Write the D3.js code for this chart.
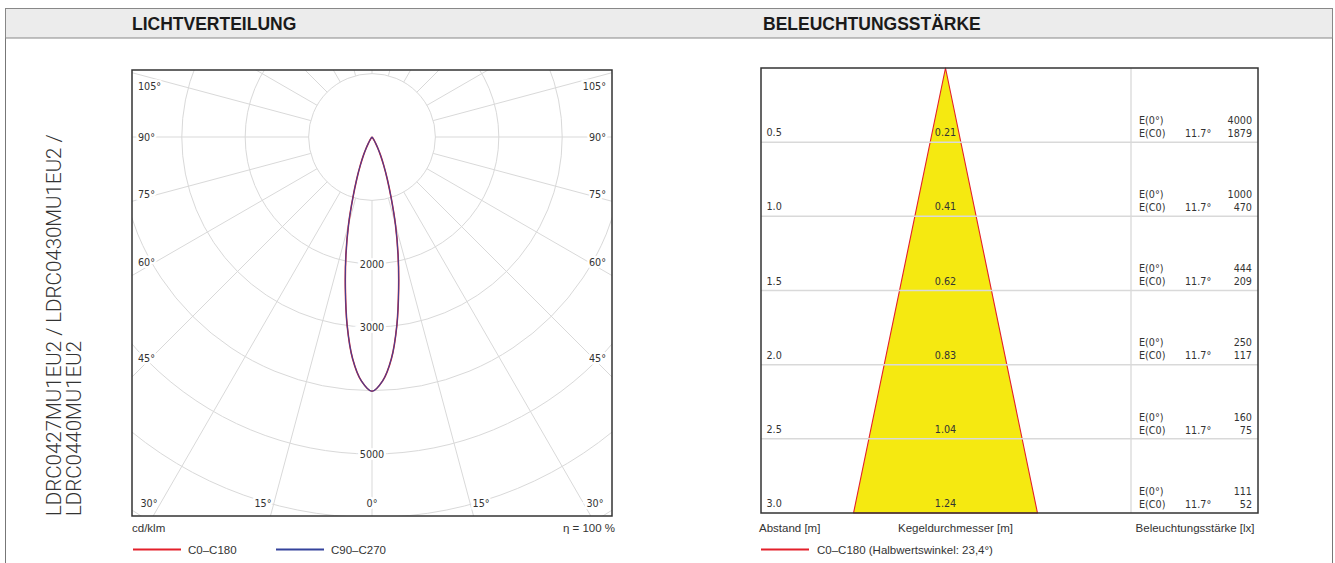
<!DOCTYPE html>
<html><head><meta charset="utf-8">
<script src="https://cdn.jsdelivr.net/npm/d3@7"></script>
<style>
html,body{margin:0;padding:0;background:#fff;}
svg{display:block;}
.lbl{font-family:'DejaVu Sans Condensed','DejaVu Sans',sans-serif;font-stretch:condensed;font-size:10.7px;fill:#333;}
.cap{font-family:'Liberation Sans',Arial,sans-serif;font-size:11.5px;fill:#333;}
.hdr{font-family:'Liberation Sans',Arial,sans-serif;font-size:17.5px;font-weight:bold;fill:#1a1a1a;}
.prod{font-family:Roboto,'Liberation Sans',sans-serif;font-weight:300;font-size:20.5px;fill:#333;}
</style></head><body>
<svg id="c" width="1335" height="563"></svg>
<script>
// ---------- data ----------
const headers = ["LICHTVERTEILUNG", "BELEUCHTUNGSSTÄRKE"];
const productLines = ["LDRC0427MU1EU2 / LDRC0430MU1EU2 /", "LDRC0440MU1EU2"];

const gammaAngles = [0,2.5,5,7.5,10,12.5,15,17.5,20,22.5,25,27.5,30,32.5,35,37.5,40,45,50,60,70,80,90];
const c0c180  = [4010,3850,3510,3000,2420,1900,1430,1000,700,480,320,200,115,60,30,15,7,2,0,0,0,0,0];
const c90c270 = [4010,3850,3510,3000,2420,1900,1430,1000,700,480,320,200,115,60,30,15,7,2,0,0,0,0,0];
const seriesNames = ["C0–C180", "C90–C270"];
const circleValues = [1000,2000,3000,4000,5000,6000,7000];
const circleLabels = [2000,3000,5000];
const angleLabels = [0,15,30,45,60,75,90,105];
const polarUnit = "cd/klm";
const efficiency = "η = 100 %";

const distances = [0.5,1.0,1.5,2.0,2.5,3.0];
const diameters = [0.21,0.41,0.62,0.83,1.04,1.24];
const e0  = [4000,1000,444,250,160,111];
const ec0 = [1879,470,209,117,75,52];
const halfAngle = "11.7°";
const coneCaptions = ["Abstand [m]", "Kegeldurchmesser [m]", "Beleuchtungsstärke [lx]"];
const coneLegend = "C0–C180 (Halbwertswinkel: 23,4°)";

// ---------- layout ----------
const svg = d3.select("#c");
const RED = "#e3202b", BLUE = "#34439c", GRID = "#d9d9d9";

// outer frame + header
svg.append("rect").attr("x",5.5).attr("y",8.5).attr("width",1327).attr("height",600)
  .attr("fill","none").attr("stroke","#777");
svg.append("rect").attr("x",5.5).attr("y",8.5).attr("width",1327).attr("height",29.5)
  .attr("fill","#ececec").attr("stroke","#888");
svg.append("text").attr("class","hdr").attr("x",132).attr("y",30).text(headers[0]);
svg.append("text").attr("class","hdr").attr("x",763).attr("y",30).text(headers[1]);

// product text (rotated)
productLines.forEach((t,i)=>{
  svg.append("text").attr("class","prod")
    .attr("transform",`translate(${61+i*19.5},516) rotate(-90)`).text(t);
});

// ---------- polar ----------
const P = {L:132, T:70, R:612, B:516, cx:372, cy:137};
const rScale = d3.scaleLinear().domain([0,1000]).range([0,63.4]);
svg.append("clipPath").attr("id","pclip").append("rect")
  .attr("x",P.L).attr("y",P.T).attr("width",P.R-P.L).attr("height",P.B-P.T);
const pg = svg.append("g").attr("clip-path","url(#pclip)");
const pc = pg.append("g").attr("transform",`translate(${P.cx},${P.cy})`);

circleValues.forEach(v=>{
  pc.append("circle").attr("r",rScale(v)).attr("fill","none").attr("stroke",GRID).attr("stroke-width",1);
});
d3.range(0,360,15).forEach(a=>{
  const t=a*Math.PI/180;
  pc.append("line")
    .attr("x1",rScale(1000)*Math.sin(t)).attr("y1",rScale(1000)*Math.cos(t))
    .attr("x2",700*Math.sin(t)).attr("y2",700*Math.cos(t))
    .attr("stroke",GRID).attr("stroke-width",1);
});

// curves
function curvePts(vals){
  const pts=[];
  for(let i=gammaAngles.length-1;i>=0;i--) pts.push({a:-gammaAngles[i], v:vals[i]});
  for(let i=1;i<gammaAngles.length;i++) pts.push({a:gammaAngles[i], v:vals[i]});
  return pts;
}
const radial = d3.lineRadial()
  .angle(d=>Math.PI - d.a*Math.PI/180)
  .radius(d=>rScale(d.v))
  .curve(d3.curveCatmullRom.alpha(0.5));
pc.append("path").attr("d",radial(curvePts(c0c180))).attr("fill","none").attr("stroke",RED).attr("stroke-width",1.6);
pc.append("path").attr("d",radial(curvePts(c90c270))).attr("fill","none").attr("stroke",BLUE).attr("stroke-width",1.1).attr("opacity",0.9);

// circle labels
circleLabels.forEach(v=>{
  svg.append("text").attr("class","lbl").attr("x",P.cx).attr("y",P.cy+rScale(v)).attr("dy","0.36em")
    .attr("text-anchor","middle").attr("stroke","#fff").attr("stroke-width",5).attr("paint-order","stroke")
    .text(v);
});
// angle labels
function placeAngle(a, side){
  const t=a*Math.PI/180, s=Math.sin(t), c=Math.cos(t);
  const tx = s>1e-9 ? (side<0 ? (P.cx-P.L) : (P.R-P.cx))/s : Infinity;
  const ty = c>1e-9 ? (P.B-P.cy)/c : (c< -1e-9 ? (P.T-P.cy)/c : Infinity);
  if(tx<ty){
    let y = P.cy + (tx-26)*c;
    y = Math.max(y, P.T+16);
    return {x: side<0 ? P.L+6 : P.R-6, y, anchor: side<0?"start":"end"};
  }
  return {x: P.cx + side*Math.min(407*Math.tan(t), 223), y: P.B-13, anchor:"middle"};
}
angleLabels.forEach(a=>{
  (a===0?[1]:[-1,1]).forEach(side=>{
    const p=placeAngle(a,side);
    svg.append("text").attr("class","lbl").attr("x",p.x).attr("y",p.y).attr("dy","0.36em")
      .attr("text-anchor",p.anchor).attr("stroke","#fff").attr("stroke-width",5).attr("paint-order","stroke")
      .text(a+"°");
  });
});
svg.append("rect").attr("x",P.L).attr("y",P.T).attr("width",P.R-P.L).attr("height",P.B-P.T)
  .attr("fill","none").attr("stroke","#333").attr("stroke-width",1.5);

svg.append("text").attr("class","cap").attr("x",P.L).attr("y",532).text(polarUnit);
svg.append("text").attr("class","cap").attr("x",P.R+3).attr("y",532).attr("text-anchor","end").text(efficiency);
[RED,BLUE].forEach((col,i)=>{
  const x0 = 133 + i*143;
  svg.append("line").attr("x1",x0).attr("x2",x0+48).attr("y1",549.5).attr("y2",549.5).attr("stroke",col).attr("stroke-width",2);
  svg.append("text").attr("class","cap").attr("x",x0+55).attr("y",553.5).text(seriesNames[i]);
});

// ---------- cone ----------
const C = {L:761, T:68, R:1258, B:513, div:1131, cx:945.5};
const yD = d3.scaleLinear().domain([0,3]).range([C.T,C.B]);
const pxm = (C.B-C.T)/3;
const xD = d3.scaleLinear().domain([-1,1]).range([C.cx-pxm, C.cx+pxm]);
const last = distances.length-1;
const cone = [[0,0],[-diameters[last]/2,distances[last]],[diameters[last]/2,distances[last]]];
svg.append("path").attr("d", d3.line().x(d=>xD(d[0])).y(d=>yD(d[1]))(cone)+"Z")
  .attr("fill","#f5e911").attr("stroke",RED).attr("stroke-width",1.1).attr("stroke-linejoin","round");

distances.forEach((d,i)=>{
  if(i<last) svg.append("line").attr("x1",C.L).attr("x2",C.R).attr("y1",yD(d)).attr("y2",yD(d))
    .attr("stroke",GRID).attr("stroke-width",1.5);
});
svg.append("line").attr("x1",C.div).attr("x2",C.div).attr("y1",C.T).attr("y2",C.B).attr("stroke",GRID).attr("stroke-width",1.3);

distances.forEach((d,i)=>{
  const y=yD(d);
  svg.append("text").attr("class","lbl").attr("x",C.L+5.5).attr("y",y-6).text(d.toFixed(1));
  svg.append("text").attr("class","lbl").attr("x",C.cx).attr("y",y-6).attr("text-anchor","middle").text(diameters[i].toFixed(2));
  svg.append("text").attr("class","lbl").attr("x",1139).attr("y",y-18.3).text("E(0°)");
  svg.append("text").attr("class","lbl").attr("x",1139).attr("y",y-5.2).text("E(C0)");
  svg.append("text").attr("class","lbl").attr("x",1185).attr("y",y-5.2).text(halfAngle);
  svg.append("text").attr("class","lbl").attr("x",1252).attr("y",y-18.3).attr("text-anchor","end").text(e0[i]);
  svg.append("text").attr("class","lbl").attr("x",1252).attr("y",y-5.2).attr("text-anchor","end").text(ec0[i]);
});
svg.append("rect").attr("x",C.L).attr("y",C.T).attr("width",C.R-C.L).attr("height",C.B-C.T)
  .attr("fill","none").attr("stroke","#333").attr("stroke-width",1.5);

svg.append("text").attr("class","cap").attr("x",759).attr("y",532).text(coneCaptions[0]);
svg.append("text").attr("class","cap").attr("x",898).attr("y",532).text(coneCaptions[1]);
svg.append("text").attr("class","cap").attr("x",1254.5).attr("y",532).attr("text-anchor","end").text(coneCaptions[2]);
svg.append("line").attr("x1",761).attr("x2",809).attr("y1",549.5).attr("y2",549.5).attr("stroke",RED).attr("stroke-width",2);
svg.append("text").attr("class","cap").attr("x",817).attr("y",553.5).text(coneLegend);
</script>
</body></html>
